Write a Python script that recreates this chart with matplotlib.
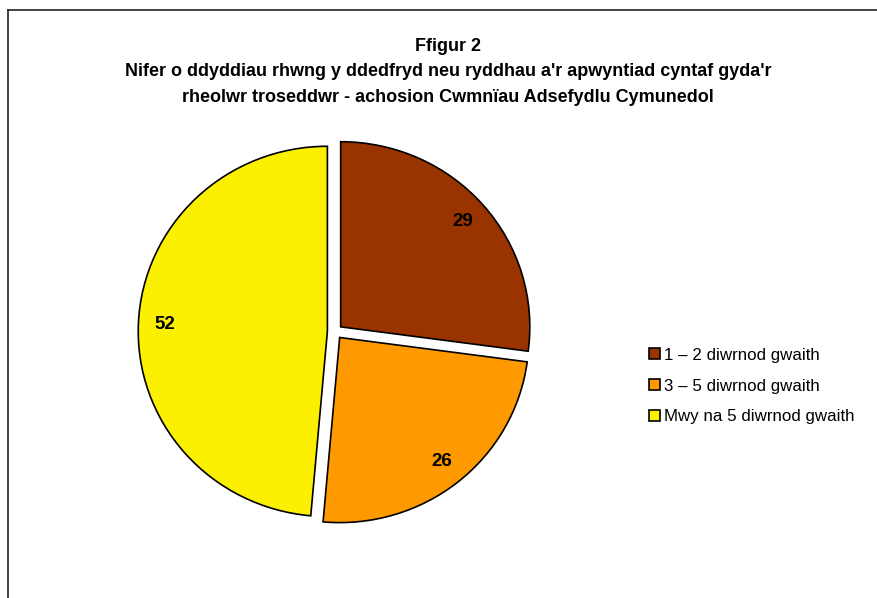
import matplotlib
matplotlib.use("Agg")
import matplotlib.pyplot as plt
from matplotlib.patches import Patch
from matplotlib.lines import Line2D

labels = ["1 \u2013 2 diwrnod gwaith", "3 \u2013 5 diwrnod gwaith", "Mwy na 5 diwrnod gwaith"]
values = [29, 26, 52]
colors = ["#993300", "#FF9900", "#FAF000"]

title = ("Ffigur 2\n"
         "Nifer o ddyddiau rhwng y ddedfryd neu ryddhau a'r apwyntiad cyntaf gyda'r\n"
         "rheolwr troseddwr - achosion Cwmnïau Adsefydlu Cymunedol")

plt.rcParams['font.family'] = ['Liberation Sans', 'DejaVu Sans']

fig = plt.figure(figsize=(8.78, 5.98), dpi=100)

# frame lines (left and top)
fig.add_artist(Line2D([8/878, 8/878], [0, 1 - 10/598], transform=fig.transFigure, color="#222222", lw=1.2))
fig.add_artist(Line2D([8/878, 1], [1 - 10/598, 1 - 10/598], transform=fig.transFigure, color="#222222", lw=1.2))

fig.text(448/878, 1 - 72/598, title, ha="center", va="center", fontsize=13,
         fontweight="bold", linespacing=1.65)

# slightly wider than tall, like the original
ax = fig.add_axes([0.1445, 0.1048, 0.474, 0.681])
wedges, texts = ax.pie(values, colors=colors, startangle=90, counterclock=False,
                       explode=[0.04, 0.04, 0.04], labels=[str(v) for v in values],
                       labeldistance=0.86,
                       wedgeprops=dict(edgecolor="black", linewidth=1.2))
for t in texts:
    t.set_fontsize(13.5)
    t.set_fontweight("bold")
    t.set_ha("center")
    t.set_va("center")
ax.set_xlim(-1.1, 1.1)
ax.set_ylim(-1.1, 1.1)
ax.set_aspect("auto")

handles = [Patch(facecolor=c, edgecolor="black", linewidth=1.2) for c in colors]
fig.legend(handles, labels, loc="center left", bbox_to_anchor=(641/878, 1 - 386/598),
           frameon=False, fontsize=12.2, handlelength=0.6, handleheight=0.6,
           handletextpad=0.25, labelspacing=0.93, borderpad=0)

fig.savefig("out.png", dpi=100)
